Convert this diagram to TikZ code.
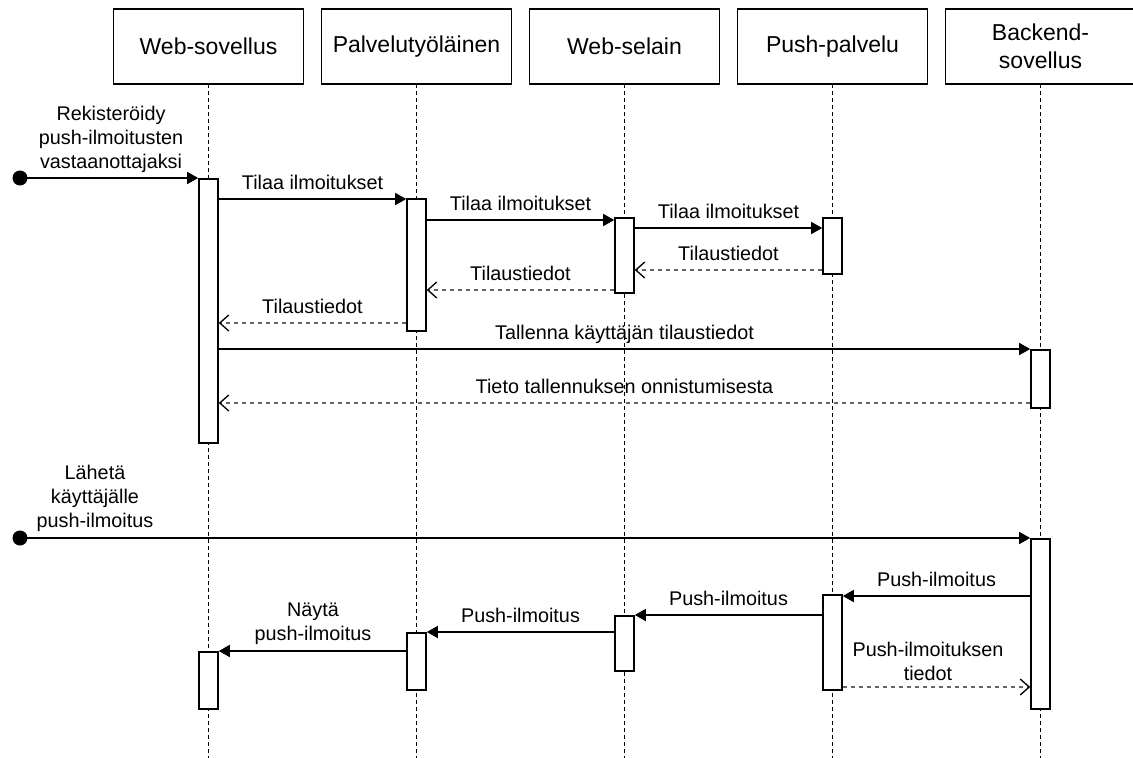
\documentclass[tikz,border=0pt]{standalone}
\usepackage{fontspec}
\setmainfont{Liberation Sans}
\usetikzlibrary{arrows.meta,positioning,calc}

\begin{document}
\begin{tikzpicture}[x=1pt,y=-1pt,
  actor/.style={draw,line width=1.6pt,minimum width=190pt,minimum height=75pt,inner sep=0pt,outer sep=0pt,align=center,font=\fontsize{23}{28}\selectfont},
  lifeline/.style={line width=1.2pt,dash pattern=on 4pt off 3pt},
  act/.style={draw,fill=white,line width=1.6pt,minimum width=19pt,inner sep=0pt,anchor=north},
  call/.style={line width=1.6pt,-{Triangle[length=11pt,width=12pt]}},
  reply/.style={line width=1.6pt,black!60,dash pattern=on 4pt off 4pt,-{Straight Barb[length=9pt,width=16pt,line width=1.3pt,color=black]}},
  lbl/.style={font=\fontsize{19.8}{24}\selectfont,text=black,inner sep=0pt,anchor=base,yshift=10pt},
  note/.style={font=\fontsize{19.8}{24}\selectfont,inner sep=0pt,align=center,anchor=north},
  start/.style={circle,fill,inner sep=0pt,minimum size=15pt}]
\useasboundingbox (0,0) rectangle (1133,758);

\node[actor] (ws) at (208.5,46.5) {Web-sovellus};
\node[actor,right=18pt of ws] (pw) {Palvelutyöläinen};
\node[actor,right=18pt of pw] (br) {Web-selain};
\node[actor,right=18pt of br] (pp) {Push-palvelu};
\node[actor,right=18pt of pp] (be) {Backend-\\sovellus};

\foreach \n in {ws,pw,br,pp,be}
  \draw[lifeline] (\n.south) -- (\n.south |- 0,758);

\node[act,minimum height=264pt] (ws1) at (ws.south |- 0,178) {};
\node[act,minimum height=132pt] (pw1) at (pw.south |- 0,198) {};
\node[act,minimum height=75pt] (br1) at (br.south |- 0,217) {};
\node[act,minimum height=56pt] (pp1) at (pp.south |- 0,217) {};
\node[act,minimum height=58pt] (be1) at (be.south |- 0,349) {};
\node[act,minimum height=170pt] (be2) at (be.south |- 0,538) {};
\node[act,minimum height=95pt] (pp2) at (pp.south |- 0,594) {};
\node[act,minimum height=55pt] (br2) at (br.south |- 0,615) {};
\node[act,minimum height=57pt] (pw2) at (pw.south |- 0,632) {};
\node[act,minimum height=57pt] (ws2) at (ws.south |- 0,651) {};

\node[start] (s1) at (20,178) {};
\node[start] (s2) at (20,538) {};

\node[note] (n1) at (111,105.5) {Rekisteröidy\\push-ilmoitusten\\vastaanottajaksi};
\draw[call] (s1.center) -- (ws1.west |- s1);
\draw[call] (ws1.east |- 0,199) -- (pw1.west |- 0,199) node[lbl,midway] {Tilaa ilmoitukset};
\draw[call] (pw1.east |- 0,220) -- (br1.west |- 0,220) node[lbl,midway] {Tilaa ilmoitukset};
\draw[call] (br1.east |- 0,228) -- (pp1.west |- 0,228) node[lbl,midway] {Tilaa ilmoitukset};
\draw[reply] (pp1.west |- 0,270) -- (br1.east |- 0,270) node[lbl,midway] {Tilaustiedot};
\draw[reply] (br1.west |- 0,290) -- (pw1.east |- 0,290) node[lbl,midway] {Tilaustiedot};
\draw[reply] (pw1.west |- 0,323) -- (ws1.east |- 0,323) node[lbl,midway] {Tilaustiedot};
\draw[call] (ws1.east |- be1.north) -- (be1.north west) node[lbl,midway] {Tallenna käyttäjän tilaustiedot};
\draw[reply] (be1.west |- 0,403) -- (ws1.east |- 0,403) node[lbl,midway] {Tieto tallennuksen onnistumisesta};

\node[note] (n2) at (95,464.5) {Lähetä\\käyttäjälle\\push-ilmoitus};
\draw[call] (s2.center) -- (be2.north west);
\draw[call] (be2.west |- 0,596) -- (pp2.east |- 0,596) node[lbl,midway] {Push-ilmoitus};
\draw[call] (pp2.west |- br2.north) -- (br2.north east) node[lbl,midway] {Push-ilmoitus};
\draw[call] (br2.west |- pw2.north) -- (pw2.north east) node[lbl,midway] {Push-ilmoitus};
\node[note] (n3) at (313,602.5) {Näytä\\push-ilmoitus};
\draw[call] (pw2.west |- ws2.north) -- (ws2.north east);
\node[note] (n4) at (928,641.5) {Push-ilmoituksen\\tiedot};
\draw[reply] (pp2.east |- 0,687) -- (be2.west |- 0,687);
\end{tikzpicture}
\end{document}
